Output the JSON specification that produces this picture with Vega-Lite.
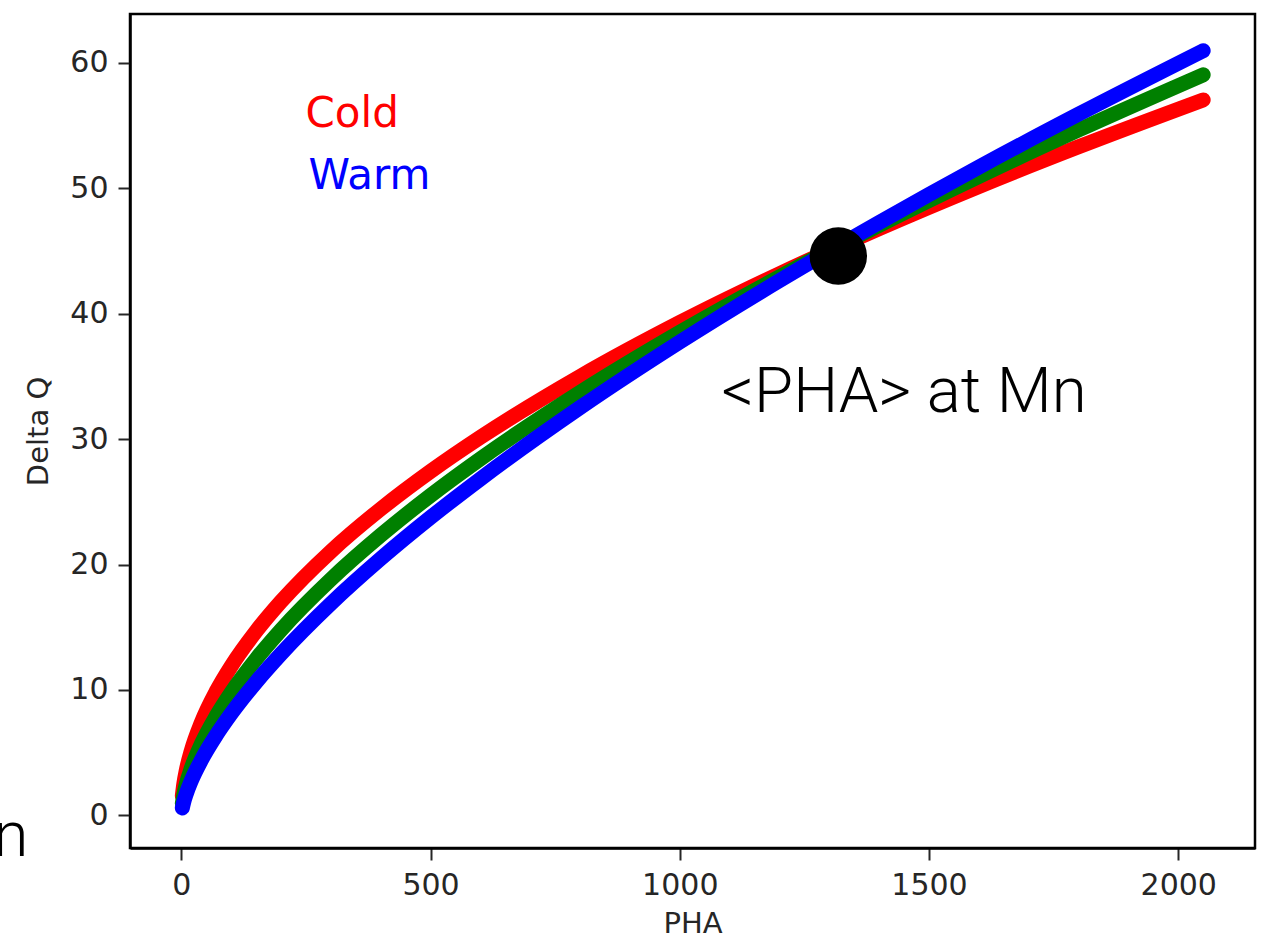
{
  "$schema": "https://vega.github.io/schema/vega-lite/v6.json",
  "width": 1125,
  "height": 834,
  "autosize": {"type": "none"},
  "padding": {"left": 130, "top": 14, "right": 8, "bottom": 93},
  "background": "white",
  "config": {
    "view": {"stroke": "#000000", "strokeWidth": 2.5},
    "axis": {
      "labelFont": "DejaVu Sans",
      "titleFont": "DejaVu Sans",
      "labelFontSize": 30,
      "titleFontSize": 29,
      "titleFontWeight": "normal",
      "labelColor": "#262626",
      "titleColor": "#262626",
      "domainColor": "#000000",
      "domainWidth": 2.5,
      "tickColor": "#262626",
      "tickWidth": 2,
      "tickSize": 12,
      "grid": false
    }
  },
  "datasets": {
    "curves": [
      {"PHA": 2, "DeltaQ": 1.56, "series": "Cold"},
      {"PHA": 5, "DeltaQ": 2.51, "series": "Cold"},
      {"PHA": 10, "DeltaQ": 3.60, "series": "Cold"},
      {"PHA": 20, "DeltaQ": 5.16, "series": "Cold"},
      {"PHA": 40, "DeltaQ": 7.39, "series": "Cold"},
      {"PHA": 70, "DeltaQ": 9.89, "series": "Cold"},
      {"PHA": 100, "DeltaQ": 11.90, "series": "Cold"},
      {"PHA": 150, "DeltaQ": 14.68, "series": "Cold"},
      {"PHA": 200, "DeltaQ": 17.05, "series": "Cold"},
      {"PHA": 300, "DeltaQ": 21.05, "series": "Cold"},
      {"PHA": 400, "DeltaQ": 24.43, "series": "Cold"},
      {"PHA": 500, "DeltaQ": 27.43, "series": "Cold"},
      {"PHA": 600, "DeltaQ": 30.15, "series": "Cold"},
      {"PHA": 800, "DeltaQ": 35.00, "series": "Cold"},
      {"PHA": 1000, "DeltaQ": 39.30, "series": "Cold"},
      {"PHA": 1200, "DeltaQ": 43.19, "series": "Cold"},
      {"PHA": 1400, "DeltaQ": 46.79, "series": "Cold"},
      {"PHA": 1600, "DeltaQ": 50.15, "series": "Cold"},
      {"PHA": 1800, "DeltaQ": 53.31, "series": "Cold"},
      {"PHA": 2050, "DeltaQ": 57.05, "series": "Cold"},
      {"PHA": 2, "DeltaQ": 0.95, "series": "Mid"},
      {"PHA": 5, "DeltaQ": 1.65, "series": "Mid"},
      {"PHA": 10, "DeltaQ": 2.49, "series": "Mid"},
      {"PHA": 20, "DeltaQ": 3.76, "series": "Mid"},
      {"PHA": 40, "DeltaQ": 5.68, "series": "Mid"},
      {"PHA": 70, "DeltaQ": 7.92, "series": "Mid"},
      {"PHA": 100, "DeltaQ": 9.79, "series": "Mid"},
      {"PHA": 150, "DeltaQ": 12.46, "series": "Mid"},
      {"PHA": 200, "DeltaQ": 14.79, "series": "Mid"},
      {"PHA": 300, "DeltaQ": 18.82, "series": "Mid"},
      {"PHA": 400, "DeltaQ": 22.33, "series": "Mid"},
      {"PHA": 500, "DeltaQ": 25.51, "series": "Mid"},
      {"PHA": 600, "DeltaQ": 28.43, "series": "Mid"},
      {"PHA": 800, "DeltaQ": 33.73, "series": "Mid"},
      {"PHA": 1000, "DeltaQ": 38.52, "series": "Mid"},
      {"PHA": 1200, "DeltaQ": 42.94, "series": "Mid"},
      {"PHA": 1400, "DeltaQ": 47.06, "series": "Mid"},
      {"PHA": 1600, "DeltaQ": 50.95, "series": "Mid"},
      {"PHA": 1800, "DeltaQ": 54.65, "series": "Mid"},
      {"PHA": 2050, "DeltaQ": 59.05, "series": "Mid"},
      {"PHA": 2, "DeltaQ": 0.59, "series": "Warm"},
      {"PHA": 5, "DeltaQ": 1.10, "series": "Warm"},
      {"PHA": 10, "DeltaQ": 1.74, "series": "Warm"},
      {"PHA": 20, "DeltaQ": 2.77, "series": "Warm"},
      {"PHA": 40, "DeltaQ": 4.40, "series": "Warm"},
      {"PHA": 70, "DeltaQ": 6.39, "series": "Warm"},
      {"PHA": 100, "DeltaQ": 8.11, "series": "Warm"},
      {"PHA": 150, "DeltaQ": 10.63, "series": "Warm"},
      {"PHA": 200, "DeltaQ": 12.88, "series": "Warm"},
      {"PHA": 300, "DeltaQ": 16.89, "series": "Warm"},
      {"PHA": 400, "DeltaQ": 20.47, "series": "Warm"},
      {"PHA": 500, "DeltaQ": 23.76, "series": "Warm"},
      {"PHA": 600, "DeltaQ": 26.83, "series": "Warm"},
      {"PHA": 800, "DeltaQ": 32.52, "series": "Warm"},
      {"PHA": 1000, "DeltaQ": 37.75, "series": "Warm"},
      {"PHA": 1200, "DeltaQ": 42.64, "series": "Warm"},
      {"PHA": 1400, "DeltaQ": 47.27, "series": "Warm"},
      {"PHA": 1600, "DeltaQ": 51.69, "series": "Warm"},
      {"PHA": 1800, "DeltaQ": 55.91, "series": "Warm"},
      {"PHA": 2050, "DeltaQ": 60.97, "series": "Warm"}
    ],
    "marker": [{"PHA": 1318, "DeltaQ": 44.6}],
    "labels": [
      {"PHA": 249, "DeltaQ": 54.9, "text": "Cold", "kind": "Cold"},
      {"PHA": 255, "DeltaQ": 49.96, "text": "Warm", "kind": "Warm"}
    ],
    "annot": [{"PHA": 1450, "DeltaQ": 32.2, "text": "<PHA> at Mn"}],
    "stray": [{"PHA": -307, "DeltaQ": -3.2, "text": "n"}]
  },
  "encoding": {
    "x": {"field": "PHA", "type": "quantitative", "scale": {"domain": [-103, 2154], "nice": false, "zero": false},
          "axis": {"title": "PHA", "values": [0, 500, 1000, 1500, 2000], "format": "d", "labelPadding": 10, "titlePadding": 9}},
    "y": {"field": "DeltaQ", "type": "quantitative", "scale": {"domain": [-2.6, 63.9], "nice": false, "zero": false},
          "axis": {"title": "Delta Q", "values": [0, 10, 20, 30, 40, 50, 60], "format": "d", "labelPadding": 10, "titlePadding": 16}}
  },
  "layer": [
    {
      "data": {"name": "curves"},
      "transform": [{"filter": "datum.series === 'Cold'"}],
      "mark": {"type": "line", "color": "#ff0000", "strokeWidth": 15, "strokeCap": "round", "strokeJoin": "round", "interpolate": "monotone"}
    },
    {
      "data": {"name": "curves"},
      "transform": [{"filter": "datum.series === 'Mid'"}],
      "mark": {"type": "line", "color": "#008000", "strokeWidth": 15, "strokeCap": "round", "strokeJoin": "round", "interpolate": "monotone"}
    },
    {
      "data": {"name": "curves"},
      "transform": [{"filter": "datum.series === 'Warm'"}],
      "mark": {"type": "line", "color": "#0000ff", "strokeWidth": 15, "strokeCap": "round", "strokeJoin": "round", "interpolate": "monotone"}
    },
    {
      "data": {"name": "marker"},
      "mark": {"type": "point", "shape": "circle", "filled": true, "color": "#000000", "size": 3300, "opacity": 1}
    },
    {
      "data": {"name": "labels"},
      "mark": {"type": "text", "font": "DejaVu Sans", "fontSize": 42, "align": "left", "baseline": "alphabetic"},
      "encoding": {
        "text": {"field": "text"},
        "color": {"field": "kind", "type": "nominal", "scale": {"domain": ["Cold", "Warm"], "range": ["#ff0000", "#0000ff"]}, "legend": null}
      }
    },
    {
      "data": {"name": "annot"},
      "mark": {"type": "text", "font": "Roboto", "fontWeight": 300, "fontSize": 63.5, "align": "center", "baseline": "alphabetic", "color": "#000000"},
      "encoding": {"text": {"field": "text"}}
    },
    {
      "data": {"name": "stray"},
      "mark": {"type": "text", "font": "Roboto", "fontWeight": 300, "fontSize": 63.5, "align": "right", "baseline": "alphabetic", "color": "#000000", "clip": false},
      "encoding": {"text": {"field": "text"}}
    }
  ]
}
